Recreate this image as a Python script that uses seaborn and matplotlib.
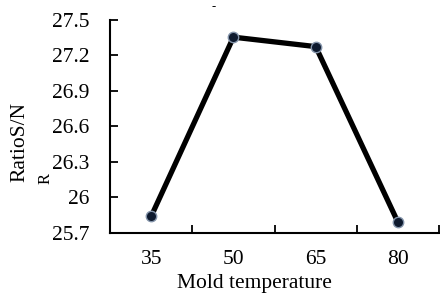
import matplotlib
matplotlib.use("Agg")
import matplotlib.pyplot as plt
import seaborn as sns
import pandas as pd
from matplotlib.ticker import FixedLocator, FixedFormatter

categories = ["35", "50", "65", "80"]
sn_ratio = [25.84, 27.355, 27.275, 25.79]
ytick_values = [25.7, 26.0, 26.3, 26.6, 26.9, 27.2, 27.5]
ytick_labels = ["25.7", "26", "26.3", "26.6", "26.9", "27.2", "27.5"]

df = pd.DataFrame({"temp": categories, "sn": sn_ratio})

sns.set_style("white")
plt.rcParams["font.family"] = ["Liberation Serif", "DejaVu Serif"]
plt.rcParams["text.color"] = "black"
plt.rcParams["xtick.color"] = "black"
plt.rcParams["ytick.color"] = "black"

fig = plt.figure(figsize=(4.4, 2.94), dpi=100)
ax = fig.add_axes([0.25, 0.2075, 0.748, 0.7245])

sns.pointplot(data=df, x="temp", y="sn", color="black", markers="o",
              linestyles="-", ax=ax, errorbar=None)
for ln in ax.lines:
    ln.set_linewidth(3.8)
    ln.set_color("black")
    ln.set_markersize(7.5)
    ln.set_markerfacecolor("#0e1a2e")
    ln.set_markeredgecolor("#8494aa")
    ln.set_markeredgewidth(1.0)

ax.set_xlim(-0.5, 3.5)
ax.set_ylim(25.7, 27.5)
ax.yaxis.set_major_locator(FixedLocator(ytick_values))
ax.yaxis.set_major_formatter(FixedFormatter(ytick_labels))

ax.xaxis.set_major_locator(FixedLocator([0.5, 1.5, 2.5, 3.5]))
ax.xaxis.set_major_formatter(FixedFormatter(["", "", "", ""]))
ax.xaxis.set_minor_locator(FixedLocator([0, 1, 2, 3]))
ax.xaxis.set_minor_formatter(FixedFormatter(categories))

ax.tick_params(axis="y", which="major", direction="in", length=6, width=1.3,
               labelsize=15.5, pad=15, left=True, labelcolor="black")
ax.tick_params(axis="x", which="major", direction="in", length=6, width=1.3,
               bottom=True)
ax.tick_params(axis="x", which="minor", length=0, labelsize=15.5, pad=12,
               labelcolor="black")

for sp in ["top", "right"]:
    ax.spines[sp].set_visible(False)
for sp in ["left", "bottom"]:
    ax.spines[sp].set_color("black")
    ax.spines[sp].set_linewidth(1.5)

ax.set_xlabel("")
ax.set_ylabel("")

# partly hidden second label fragment behind tick labels
fig.text(46 / 440, 1 - 184 / 294, "R", ha="center", va="bottom",
         rotation=90, fontsize=12, zorder=-5)
for lab in ax.get_yticklabels():
    lab.set_bbox(dict(facecolor="white", edgecolor="none", pad=1.5))

fig.text(214 / 440, 1 - 7 / 294, "-", ha="center", va="center",
         fontsize=9)
fig.text(254 / 440, 1 - 288 / 294, "Mold temperature", ha="center",
         va="baseline", fontsize=15.5)
fig.text(20 / 440, 1 - 142 / 294, "RatioS/N", ha="center", va="center",
         rotation=90, fontsize=15.5)

fig.savefig("out.png", dpi=100)
